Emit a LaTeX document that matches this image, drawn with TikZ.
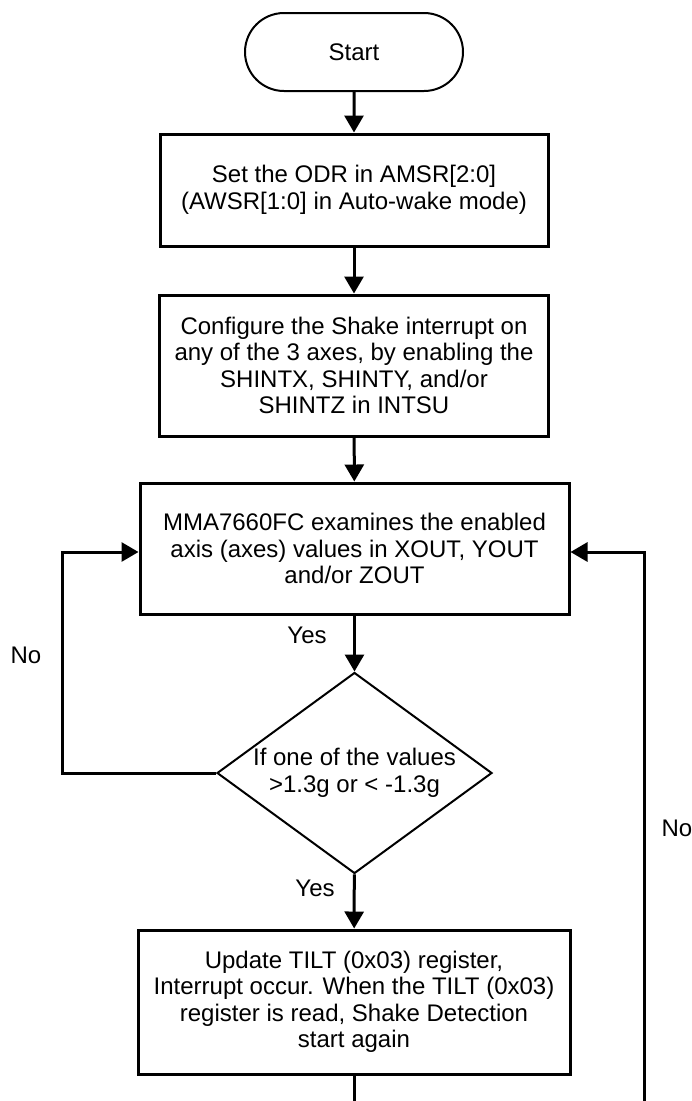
\documentclass[tikz,border=0pt]{standalone}
\usepackage{fontspec}
\setmainfont{Liberation Sans}
\usetikzlibrary{shapes.geometric,shapes.misc,arrows.meta}
\begin{document}
\begin{tikzpicture}[x=1pt,y=-1pt,
  txt/.style={font=\fontsize{24}{26.5}\selectfont},
  box/.style={txt, draw, rectangle, line width=3pt, align=center, inner sep=0pt},
  term/.style={txt, draw, rounded rectangle, line width=2pt, inner sep=0pt},
  dec/.style={txt, draw, diamond, line width=2pt, align=center, inner sep=0pt, aspect=1.37},
  conn/.style={line width=3pt, -{Triangle[length=17pt,width=19pt]}},
  plain/.style={line width=3pt},
  lbl/.style={txt, inner sep=0pt}]
\useasboundingbox (0,0) rectangle (692,1101);

\node[term, minimum width=218pt, minimum height=78pt] (start) at (354,52) {Start};
\node[box, minimum width=388pt, minimum height=112pt] (b1) at (354,190)
  {Set the ODR in AMSR[2:0]\\(AWSR[1:0] in Auto-wake mode)};
\node[box, minimum width=389pt, minimum height=141pt] (b2) at (354,365.5)
  {Configure the Shake interrupt on\\any of the 3 axes, by enabling the\\SHINTX, SHINTY, and/or\\SHINTZ in INTSU};
\node[box, minimum width=429pt, minimum height=131pt] (b3) at (354.5,548.5)
  {MMA7660FC examines the enabled\\axis (axes) values in XOUT, YOUT\\and/or ZOUT};
\node[dec, minimum width=275pt, minimum height=201pt] (dia) at (354.5,773)
  {If one of the values\\>1.3g or < -1.3g};
\node[box, minimum width=432pt, minimum height=144pt] (b4) at (354,1002)
  {Update TILT (0x03) register,\\Interrupt occur. When the TILT (0x03)\\register is read, Shake Detection\\start again};

\coordinate (lc) at (62,773);
\coordinate (rb) at (644,1101);
\coordinate (bb) at (354,1101);

\draw[conn] (start) -- (b1);
\draw[conn] (b1) -- (b2);
\draw[conn] (b2) -- (b3);
\draw[conn] (b3) -- (dia);
\draw[conn] (dia) -- (b4);
\draw[plain] (b4) -- (bb);
\draw[conn] (dia.west) -- (lc) |- ([yshift=-3.5pt]b3.west);
\draw[conn] (rb) |- ([yshift=-3.5pt]b3.east);

\node[lbl] (yes1) at (307,635) {Yes};
\node[lbl] (yes2) at (315,888) {Yes};
\node[lbl] (no1) at (26,655) {No};
\node[lbl] (no2) at (677,828) {No};
\end{tikzpicture}
\end{document}
